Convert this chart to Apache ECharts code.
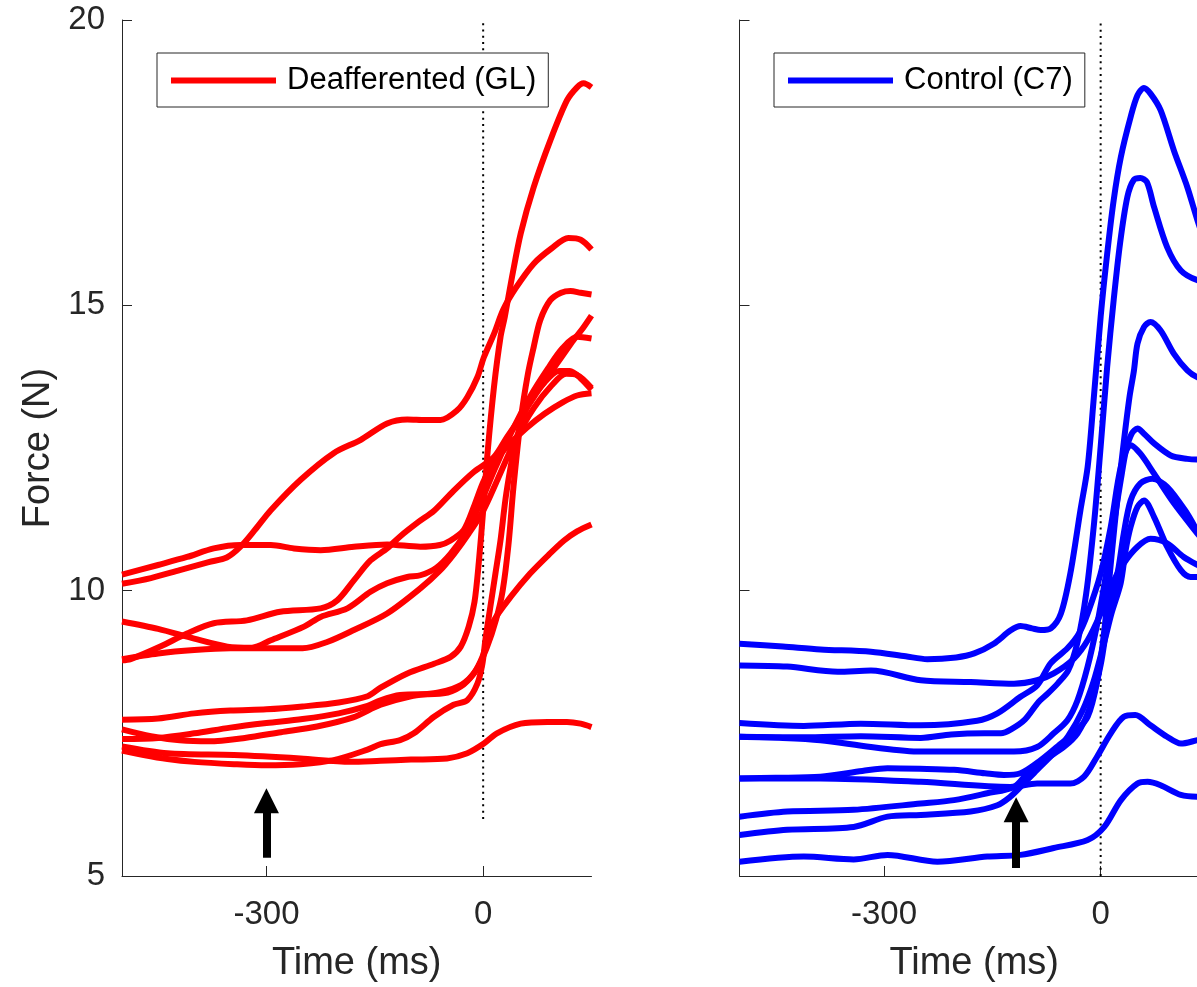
<!DOCTYPE html>
<html>
<head>
<meta charset="utf-8">
<script src="https://cdn.jsdelivr.net/npm/echarts@6/dist/echarts.min.js"></script>
<style>
html,body{margin:0;padding:0;background:#fff;}
#chart{width:1197px;height:987px;}
</style>
</head>
<body>
<div id="chart"></div>
<script>
// ---------- DATA (time in ms, force in N) ----------
const xTicks = [-300, 0];
const yTicks = [5, 10, 15, 20];
const legendLeft = 'Deafferented (GL)';
const legendRight = 'Control (C7)';

// Deafferented (GL) trials
const redP = [[-500,10.12],[-460,10.22],[-420,10.36],[-380,10.5],[-355,10.58],[-336,10.77],[-315,11.08],[-294,11.41],[-253,11.94],[-207,12.41],[-170,12.64],[-133,12.93],[-105,13.0],[-80,12.99],[-59,12.99],[-36,13.16],[-22,13.39],[-8,13.74],[1,14.09],[15,14.5],[28,14.93],[45,15.3],[70,15.73],[95,16.0],[118,16.18],[135,16.15],[150,15.98]];
const redQ = [[-500,10.28],[-450,10.45],[-410,10.59],[-373,10.74],[-336,10.80],[-294,10.80],[-262,10.74],[-225,10.71],[-179,10.77],[-133,10.81],[-87,10.77],[-60,10.8],[-45,10.88],[-27,11.06],[-12,11.5],[0,11.9],[15,12.25],[35,12.55],[60,12.85],[85,13.1],[110,13.3],[130,13.42],[150,13.46]];
const redM1 = [[-500,9.46],[-450,9.33],[-400,9.16],[-354,9.02],[-320,9.0],[-294,9.13],[-248,9.37],[-225,9.54],[-188,9.69],[-156,9.98],[-133,10.13],[-105,10.24],[-87,10.27],[-65,10.4],[-45,10.65],[-25,11.0],[-5,11.5],[15,12.1],[40,12.8],[65,13.4],[90,13.9],[110,14.25],[130,14.45],[150,14.42]];
const redM2 = [[-500,8.78],[-488,8.80],[-447,9.02],[-410,9.25],[-373,9.43],[-327,9.48],[-281,9.63],[-225,9.69],[-202,9.83],[-179,10.18],[-156,10.53],[-133,10.74],[-115,10.95],[-90,11.2],[-68,11.4],[-41,11.75],[-13,12.08],[15,12.34],[33,12.69],[52,13.04],[70,13.39],[89,13.74],[110,14.12],[125,14.39],[137,14.58],[150,14.82]];
const redM3 = [[-500,8.80],[-450,8.9],[-400,8.96],[-350,8.99],[-300,8.99],[-250,8.99],[-216,9.10],[-179,9.31],[-133,9.60],[-87,10.04],[-60,10.35],[-40,10.65],[-20,11.0],[0,11.4],[20,11.95],[45,12.65],[70,13.2],[95,13.6],[115,13.8],[130,13.78],[150,13.55]];
const redLa = [[-500,7.74],[-450,7.76],[-400,7.85],[-350,7.9],[-300,7.92],[-250,7.97],[-200,8.04],[-160,8.15],[-142,8.3],[-105,8.55],[-68,8.72],[-45,8.84],[-31,9.02],[-20,9.37],[-12,9.8],[-6,10.5],[0,11.4],[6,12.4],[15,13.57],[24,14.44],[30,14.8],[40,15.5],[52,16.26],[70,17.07],[93,17.89],[116,18.59],[130,18.82],[139,18.89],[150,18.82]];
const redLb = [[-500,7.40],[-450,7.42],[-400,7.5],[-350,7.6],[-300,7.68],[-250,7.75],[-200,7.85],[-160,7.98],[-142,8.08],[-115,8.17],[-55,8.2],[-31,8.32],[-13,8.55],[-1,8.84],[6,9.13],[15,9.48],[38,9.89],[65,10.3],[90,10.62],[112,10.88],[130,11.04],[150,11.16]];
const redLc = [[-500,7.2],[-470,7.12],[-437,7.05],[-400,7.0],[-345,6.96],[-300,6.94],[-253,6.96],[-207,7.03],[-161,7.21],[-142,7.31],[-115,7.38],[-96,7.5],[-68,7.79],[-41,8.0],[-22,8.08],[-8,8.37],[-1,8.72],[3,9.13],[10,9.72],[17,10.3],[24,10.88],[32,11.7],[45,12.6],[62,13.25],[85,13.65],[105,13.85],[120,13.85],[135,13.72],[150,13.52]];
const redLe = [[-500,7.57],[-460,7.45],[-420,7.38],[-380,7.36],[-330,7.42],[-280,7.52],[-230,7.62],[-180,7.78],[-142,8.0],[-100,8.15],[-60,8.22],[-30,8.35],[-10,8.6],[5,9.0],[18,9.5],[27,10.0],[35,10.8],[42,11.82],[52,12.99],[62,13.8],[70,14.27],[79,14.74],[93,15.09],[108,15.22],[121,15.25],[135,15.22],[150,15.19]];
const redLd = [[-500,7.27],[-437,7.15],[-345,7.12],[-253,7.06],[-184,7.0],[-142,7.02],[-100,7.04],[-50,7.06],[-22,7.15],[1,7.32],[19,7.5],[52,7.67],[89,7.7],[116,7.7],[135,7.67],[150,7.61]];

// Control (C7) trials
const blueA = [[-500,9.07],[-440,9.02],[-388,8.97],[-318,8.93],[-270,8.85],[-240,8.80],[-200,8.83],[-175,8.90],[-148,9.07],[-125,9.3],[-111,9.38],[-95,9.34],[-83,9.31],[-69,9.34],[-55,9.60],[-42,10.30],[-28,11.41],[-18,12.17],[-10,13.3],[0,14.8],[9,15.9],[18,16.84],[28,17.6],[41.5,18.3],[51,18.68],[60,18.81],[69,18.71],[83,18.42],[101.5,17.71],[120,17.07],[134,16.49],[150,15.9]];
const blueB = [[-500,7.44],[-411,7.43],[-332,7.45],[-249,7.42],[-207,7.48],[-161,7.5],[-138,7.5],[-124,7.57],[-105,7.74],[-86,8.05],[-73,8.2],[-59,8.38],[-45,8.6],[-32,9.1],[-20,9.95],[-9,11.2],[0,12.52],[9,13.92],[18,15.09],[27,16.1],[37,16.9],[46,17.2],[55,17.23],[64,17.16],[74,16.72],[92,16.02],[111,15.61],[134,15.44],[150,15.42]];
const blueC = [[-500,6.71],[-450,6.72],[-388,6.74],[-330,6.84],[-295,6.89],[-250,6.88],[-203,6.86],[-160,6.8],[-134,6.77],[-111,6.80],[-83,7.03],[-55,7.32],[-37,7.50],[-18,7.79],[-5,8.4],[5,9.3],[15,10.6],[23,11.6],[32,12.6],[40,13.4],[46,13.85],[51,14.33],[60,14.62],[69,14.71],[83,14.56],[101.5,14.15],[120,13.86],[134,13.74],[150,13.7]];
const blueD = [[-500,7.44],[-440,7.42],[-388,7.38],[-318,7.26],[-249,7.18],[-180,7.18],[-120,7.18],[-88,7.26],[-65,7.50],[-46,7.73],[-32,8.08],[-18,8.67],[-5,9.4],[5,10.1],[14,10.8],[21,11.4],[28,11.95],[35,12.45],[43,12.75],[51,12.84],[60,12.75],[74,12.58],[97,12.37],[120,12.31],[134,12.3],[150,12.3]];
const blueE = [[-500,7.68],[-411,7.63],[-332,7.67],[-249,7.64],[-171,7.72],[-143,7.85],[-111,8.14],[-88,8.34],[-69,8.73],[-46,8.99],[-30,9.25],[-18,9.60],[0,10.30],[14,11.12],[28,12.17],[41.5,12.55],[55,12.40],[74,12.05],[101.5,11.53],[134,11.0],[150,10.75]];
const blueF = [[-500,6.04],[-434,6.13],[-342,6.16],[-249,6.27],[-203,6.33],[-157,6.45],[-120,6.56],[-101,6.80],[-78,7.03],[-51,7.26],[-32,7.50],[-15,7.95],[0,8.7],[10,9.5],[18,10.0],[25,10.42],[32,11.0],[41.5,11.58],[55,11.88],[71.5,11.96],[92,11.82],[120,11.35],[134,11.05],[150,10.85]];
const blueG = [[-500,5.72],[-434,5.81],[-342,5.86],[-295,6.04],[-249,6.07],[-180,6.13],[-143,6.24],[-125,6.39],[-111,6.56],[-88,6.86],[-65,7.15],[-45,7.45],[-25,7.9],[-10,8.4],[5,9.1],[15,9.6],[27.7,10.13],[34.6,10.71],[41.5,11.12],[51,11.47],[60,11.58],[74,11.29],[92,10.77],[111,10.36],[124.6,10.24],[134,10.24],[150,10.3]];
const blueH = [[-500,8.69],[-434,8.67],[-364,8.58],[-318,8.60],[-249,8.43],[-180,8.40],[-120,8.37],[-88,8.43],[-65,8.55],[-37,8.81],[-18,9.13],[0,9.60],[14,10.07],[32,10.48],[51,10.77],[69,10.91],[92,10.83],[115,10.59],[134,10.45],[150,10.35]];
const blueI = [[-500,6.71],[-388,6.71],[-249,6.65],[-125,6.56],[-88,6.62],[-42,6.62],[-23,6.74],[-5,7.09],[14,7.50],[32,7.79],[48,7.82],[69,7.64],[92,7.44],[111,7.32],[134,7.38],[150,7.42]];
const blueJ = [[-500,5.25],[-411,5.34],[-342,5.29],[-295,5.37],[-226,5.25],[-157,5.34],[-111,5.37],[-65,5.49],[-18,5.63],[5,5.86],[28,6.33],[51,6.62],[65,6.65],[83,6.59],[111,6.42],[134,6.39],[150,6.4]];

// onset reference line (t = 0) extent, and arrows [time, base force, head-centre force]
const zeroLineLeft = [6, 20];
const zeroLineRight = [5, 20];
const arrowLeft = [-300, 5.32, 6.32];
const arrowRight = [-117, 5.14, 6.16];

const redCurves = [redP, redQ, redM1, redM2, redM3, redLa, redLb, redLc, redLe, redLd];
const blueCurves = [blueA, blueB, blueC, blueD, blueE, blueF, blueG, blueH, blueI, blueJ];

// ---------- CHART ----------
const FONT = "'Liberation Sans', Arial, Helvetica, sans-serif";
const AX = '#262626';

function curve(name, data, color, idx) {
  return {
    type: 'line', name: name, xAxisIndex: idx, yAxisIndex: idx, data: data,
    showSymbol: false, symbol: 'none', smooth: 0.3, silent: true,
    lineStyle: { color: color, width: 6, cap: 'butt', join: 'round' },
    itemStyle: { color: color }, emphasis: { disabled: true }, z: 3
  };
}
function zeroLine(range, arrow, idx) {
  return {
    type: 'line', name: 'onset' + idx, xAxisIndex: idx, yAxisIndex: idx,
    data: [[0, range[0]], [0, range[1]]], showSymbol: false, symbol: 'none', silent: true,
    lineStyle: { color: '#000', width: 2, type: [2, 4.3] }, z: 2,
    markLine: {
      silent: true, symbol: ['none', 'triangle'], symbolSize: 25,
      label: { show: false }, emphasis: { disabled: true },
      lineStyle: { color: '#000', width: 8, type: 'solid', opacity: 1 },
      itemStyle: { color: '#000' },
      data: [[{ coord: [arrow[0], arrow[1]] }, { coord: [arrow[0], arrow[2]] }]]
    }
  };
}
function xAx(idx) {
  return {
    type: 'value', gridIndex: idx, min: -500, max: 150,
    name: 'Time (ms)', nameLocation: 'middle', nameGap: 69,
    nameTextStyle: { fontSize: 38, color: AX, fontFamily: FONT },
    axisLine: { show: true, onZero: false, lineStyle: { color: AX, width: 1 } },
    axisTick: { show: true, inside: true, length: 10, customValues: xTicks, lineStyle: { color: AX, width: 1 } },
    axisLabel: { show: true, customValues: xTicks, fontSize: 33, color: AX, fontFamily: FONT, margin: 22 },
    splitLine: { show: false }
  };
}
function yAx(idx) {
  return {
    type: 'value', gridIndex: idx, min: 5, max: 20, interval: 5,
    name: idx === 0 ? 'Force (N)' : '', nameLocation: 'middle', nameGap: 64, nameRotate: 90,
    nameTextStyle: { fontSize: 38, color: AX, fontFamily: FONT },
    axisLine: { show: true, onZero: false, lineStyle: { color: AX, width: 1 } },
    axisTick: { show: true, inside: true, length: 10, customValues: yTicks, lineStyle: { color: AX, width: 1 } },
    axisLabel: { show: idx === 0, customValues: yTicks, fontSize: 33, color: AX, fontFamily: FONT, margin: 17 },
    splitLine: { show: false }
  };
}
function legend(name, left, color) {
  return {
    data: [name], left: left, top: 53, orient: 'horizontal',
    padding: [12, 12, 11, 14], itemWidth: 105, itemHeight: 6, icon: 'rect',
    itemStyle: { color: color, borderWidth: 0 },
    borderColor: AX, borderWidth: 1, backgroundColor: '#fff',
    selectedMode: false,
    textStyle: { fontSize: 31, color: '#000', fontFamily: FONT, lineHeight: 31, padding: [0, 0, 0, 6] }
  };
}

const series = [];
series.push(zeroLine(zeroLineLeft, arrowLeft, 0));
series.push(zeroLine(zeroLineRight, arrowRight, 1));
redCurves.forEach(d => series.push(curve(legendLeft, d, '#ff0000', 0)));
blueCurves.forEach(d => series.push(curve(legendRight, d, '#0000ff', 1)));

const chart = echarts.init(document.getElementById('chart'), null, { renderer: 'canvas' });
chart.setOption({
  animation: false,
  backgroundColor: '#fff',
  textStyle: { fontFamily: FONT },
  grid: [
    { left: 122, top: 20, width: 469.5, height: 856, outerBoundsMode: 'none', containLabel: false },
    { left: 739.5, top: 20, width: 469.5, height: 856, outerBoundsMode: 'none', containLabel: false }
  ],
  xAxis: [xAx(0), xAx(1)],
  yAxis: [yAx(0), yAx(1)],
  legend: [legend(legendLeft, 157, '#ff0000'), legend(legendRight, 774, '#0000ff')],
  series: series
});
</script>
</body>
</html>
